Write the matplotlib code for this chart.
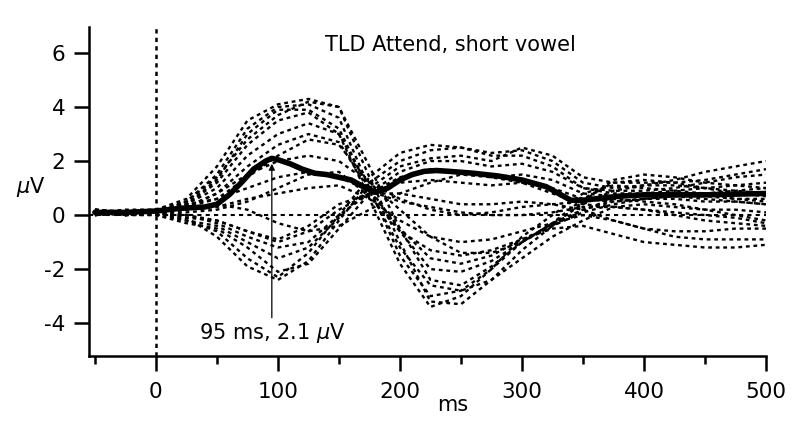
import matplotlib.pyplot as plt

# sample times (ms) of the single-channel traces
times = [-50, -25, 0, 25, 50, 75, 100, 125, 150, 175, 200, 225, 250,
         275, 300, 325, 350, 375, 400, 425, 450, 475, 500]

# channels with an early positive deflection (uV)
pos_1 = [0.1, 0.0, 0.1, 0.5, 1.5, 3.2, 4.0, 4.1, 3.6, 1.0, -1.5, -3.0, -2.8, -2.0, -1.0, -0.3, 0.6, 1.2, 1.3, 1.2, 1.0, 0.8, 0.7]
pos_2 = [0.2, 0.1, 0.2, 0.6, 1.8, 3.5, 4.1, 4.3, 4.0, 1.4, -1.0, -3.2, -3.3, -2.4, -1.3, -0.4, 0.5, 1.3, 1.5, 1.4, 1.2, 1.1, 1.0]
pos_3 = [0.0, 0.1, 0.1, 0.4, 1.2, 2.6, 3.5, 3.8, 3.0, 0.6, -1.8, -3.4, -3.0, -2.0, -0.8, 0.0, 0.8, 1.1, 1.0, 0.9, 0.8, 0.6, 0.5]
pos_4 = [0.1, 0.2, 0.2, 0.5, 1.4, 2.8, 3.7, 4.2, 4.0, 1.8, -0.5, -2.4, -2.6, -1.9, -1.0, -0.3, 0.4, 0.9, 1.1, 1.1, 1.0, 0.9, 0.8]
pos_5 = [0.2, 0.1, 0.1, 0.4, 1.0, 2.2, 3.0, 3.4, 3.0, 1.0, -0.6, -2.0, -2.1, -1.7, -1.0, -0.4, 0.2, 0.6, 0.8, 0.8, 0.7, 0.6, 0.6]
pos_6 = [0.1, 0.0, 0.2, 0.3, 0.8, 1.8, 2.6, 3.0, 2.7, 0.9, -0.5, -1.6, -1.8, -1.5, -0.9, -0.4, 0.1, 0.4, 0.6, 0.7, 0.6, 0.5, 0.4]
pos_7 = [0.0, 0.1, 0.1, 0.3, 0.6, 1.4, 2.2, 2.8, 2.6, 1.2, 0.2, -0.8, -1.4, -1.4, -1.0, -0.3, 0.2, 0.5, 0.6, 0.6, 0.5, 0.5, 0.4]
pos_8 = [0.1, 0.1, 0.2, 0.4, 1.3, 3.0, 3.9, 3.9, 3.2, 0.9, -1.2, -2.6, -2.8, -2.4, -1.6, -0.8, -0.2, 0.3, 0.4, 0.3, 0.2, 0.2, 0.1]

# channels with an early negative deflection (uV)
neg_1 = [0.1, 0.0, 0.0, -0.2, -0.6, -1.6, -2.3, -1.4, 0.0, 1.4, 2.3, 2.6, 2.5, 2.3, 2.4, 2.0, 1.2, 1.0, 1.1, 1.3, 1.6, 1.8, 2.0]
neg_2 = [0.2, 0.1, 0.1, -0.1, -0.8, -1.9, -2.4, -1.7, -0.2, 1.2, 2.0, 2.4, 2.5, 2.2, 2.2, 1.8, 1.0, 0.9, 0.9, 1.0, 1.2, 1.4, 1.5]
neg_3 = [0.0, 0.1, 0.0, -0.3, -0.5, -1.2, -2.1, -1.8, -0.5, 0.8, 1.6, 2.0, 2.0, 1.8, 1.9, 1.6, 1.0, 0.8, 0.8, 0.9, 1.0, 1.1, 1.2]
neg_4 = [0.1, 0.1, 0.1, -0.2, -0.4, -1.0, -1.6, -1.2, -0.1, 1.0, 1.8, 2.1, 2.2, 2.0, 2.5, 2.2, 1.4, 1.2, 1.2, 1.2, 1.3, 1.5, 1.7]
neg_5 = [0.1, 0.0, 0.1, 0.0, -0.3, -0.8, -1.2, -1.0, 0.0, 0.8, 1.4, 1.7, 1.6, 1.4, 1.5, 1.3, 0.8, 0.7, 0.7, 0.8, 0.8, 0.9, 1.0]
neg_6 = [0.2, 0.1, 0.1, -0.1, -0.2, -0.6, -1.0, -0.6, 0.2, 0.8, 1.2, 1.3, 1.2, 1.1, 1.2, 1.0, 0.6, 0.5, 0.6, 0.7, 0.7, 0.8, 0.8]

# smaller channels near the midline (uV)
mid_1 = [0.1, 0.1, 0.1, 0.3, 0.8, 1.5, 2.0, 2.2, 2.0, 1.2, 0.6, 0.2, 0.0, 0.1, 0.3, 0.4, 0.5, 0.6, 0.5, 0.4, 0.2, 0.0, -0.2]
mid_2 = [0.0, 0.1, 0.2, 0.4, 0.6, 1.0, 1.4, 1.6, 1.4, 0.9, 0.5, 0.3, 0.1, 0.0, 0.0, 0.1, 0.3, 0.3, 0.2, 0.0, -0.2, -0.3, -0.4]
mid_3 = [0.1, 0.0, 0.1, 0.2, 0.3, 0.6, 0.8, 1.0, 1.1, 0.6, -0.2, -0.8, -1.0, -0.9, -0.6, -0.3, 0.0, -0.2, -0.5, -0.8, -0.9, -0.9, -0.9]
mid_4 = [0.1, 0.1, 0.1, 0.1, 0.2, 0.5, 1.0, 1.5, 1.6, 0.7, -0.6, -1.3, -1.5, -1.3, -0.9, -0.5, -0.4, -0.7, -1.0, -1.1, -1.2, -1.2, -1.1]
mid_5 = [0.0, 0.1, 0.1, 0.2, 0.4, 0.2, -0.3, -0.6, -0.4, 0.2, 0.8, 1.2, 1.5, 1.4, 1.2, 0.8, 0.4, 0.3, 0.2, 0.1, 0.0, -0.1, -0.3]
mid_6 = [0.1, 0.0, 0.1, 0.0, -0.2, -0.6, -0.9, -0.4, 0.4, 0.8, 0.8, 0.6, 0.4, 0.4, 0.5, 0.4, 0.2, -0.2, -0.5, -0.6, -0.6, -0.5, -0.5]

# grand average (thick line)
avg_times = [-50, -25, 0, 20, 40, 50, 60, 70, 80, 90, 95, 100, 110, 120, 130, 140, 150, 160, 170, 180,
             190, 200, 210, 220, 230, 240, 260, 280, 300, 320, 330, 340, 350, 360, 380, 400, 450, 500]
avg_uv = [0.1, 0.1, 0.15, 0.25, 0.3, 0.4, 0.75, 1.2, 1.7, 2.0, 2.1, 2.05, 1.9, 1.7, 1.55, 1.5, 1.4, 1.3, 1.05, 0.85,
          1.0, 1.3, 1.5, 1.62, 1.65, 1.62, 1.55, 1.45, 1.3, 1.05, 0.8, 0.55, 0.55, 0.6, 0.7, 0.75, 0.75, 0.8]

peak_ms = 95
peak_uv = 2.1

channels = [pos_1, pos_2, pos_3, pos_4, pos_5, pos_6, pos_7, pos_8,
            neg_1, neg_2, neg_3, neg_4, neg_5, neg_6,
            mid_1, mid_2, mid_3, mid_4, mid_5, mid_6]

plt.rcParams['font.family'] = ['DejaVu Sans']
plt.rcParams['mathtext.fontset'] = 'dejavusans'
plt.rcParams['axes.unicode_minus'] = False

fig = plt.figure(figsize=(8, 4.38), dpi=100)
ax = fig.add_axes([0.111, 0.187, 0.8465, 0.7512])

for ch in channels:
    ax.plot(times, ch, color='black', lw=1.7, linestyle=(0, (1.6, 1.6)))

ax.axhline(0, color='black', lw=1.5, linestyle=(0, (2, 2)))
ax.axvline(0, color='black', lw=1.8, linestyle=(0, (1.7, 1.7)))

ax.plot(avg_times, avg_uv, color='black', lw=4, solid_capstyle='round')

# peak marker
ax.annotate("", xy=(peak_ms, peak_uv - 0.2), xytext=(peak_ms, -3.8),
            arrowprops=dict(arrowstyle='-|>', color='black', lw=0.9,
                            mutation_scale=9, shrinkA=0, shrinkB=0))
ax.text(peak_ms - 60, -4.37, "95 ms, %.1f $\\mu$V" % peak_uv, fontsize=15,
        ha='left', va='center')

ax.text(241, 6.3, "TLD Attend, short vowel", fontsize=15, ha='center', va='center')

ax.set_xlim(-55, 500)
ax.set_ylim(-5.22, 6.96)
ax.set_xticks([0, 100, 200, 300, 400, 500])
ax.set_xticks([-50, 50, 150, 250, 350, 450], minor=True)
ax.set_yticks([-4, -2, 0, 2, 4, 6])

for side in ['top', 'right']:
    ax.spines[side].set_visible(False)
for side in ['left', 'bottom']:
    ax.spines[side].set_linewidth(1.8)

ax.tick_params(axis='both', which='major', direction='out', length=11, width=1.8,
               labelsize=15.5)
ax.tick_params(axis='x', which='major', pad=8)
ax.tick_params(axis='y', which='major', pad=6)
ax.tick_params(axis='x', which='minor', direction='out', length=6, width=1.8)

ax.text(-0.085, 0.515, "$\\mu$V", transform=ax.transAxes, fontsize=15,
        ha='center', va='center')
ax.text(243, -0.15, "ms", transform=ax.get_xaxis_transform(), fontsize=15,
        ha='center', va='center')

fig.savefig("out.png", dpi=100)
